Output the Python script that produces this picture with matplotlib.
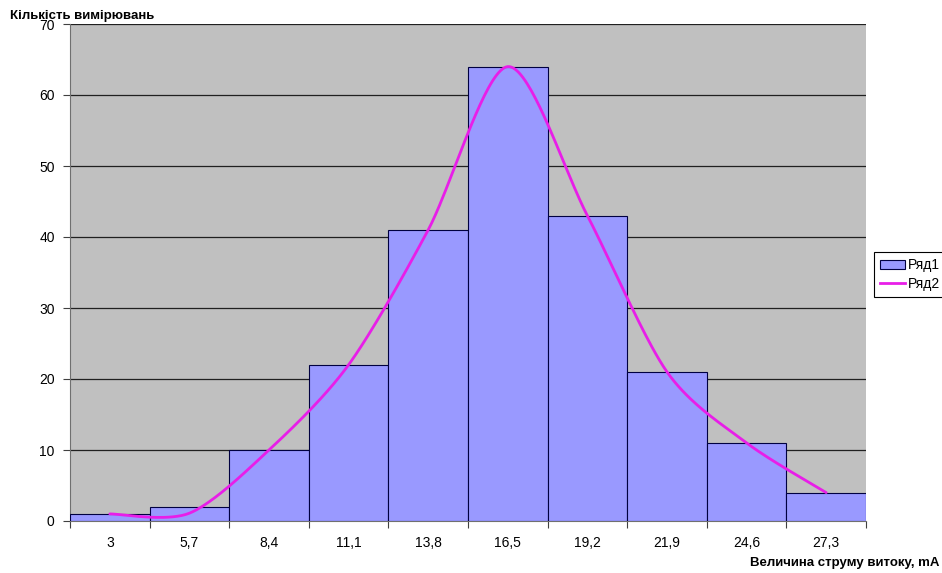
import numpy as np
import matplotlib
matplotlib.use("Agg")
import matplotlib.pyplot as plt
from matplotlib.patches import Patch
from matplotlib.lines import Line2D

# histogram of leakage current measurements
bins = ["3", "5,7", "8,4", "11,1", "13,8", "16,5", "19,2", "21,9", "24,6", "27,3"]
counts = [1, 2, 10, 22, 41, 64, 43, 21, 11, 4]          # Ряд1
fitted = [1, 1.1, 10, 22, 41, 64, 43, 21, 11, 4]        # Ряд2


def excel_smooth(x, y, n=40, k=6.0):
    # bezier smoothing like the spreadsheet "smoothed line" option
    x = np.asarray(x, float)
    y = np.asarray(y, float)
    px = np.concatenate([[x[0]], x, [x[-1]]])
    py = np.concatenate([[y[0]], y, [y[-1]]])
    xs, ys = [], []
    t = np.linspace(0, 1, n)
    for i in range(1, len(px) - 2):
        p0 = np.array([px[i], py[i]])
        p3 = np.array([px[i + 1], py[i + 1]])
        c1 = p0 + (np.array([px[i + 1], py[i + 1]]) - np.array([px[i - 1], py[i - 1]])) / k
        c2 = p3 - (np.array([px[i + 2], py[i + 2]]) - np.array([px[i], py[i]])) / k
        b = ((1 - t) ** 3)[:, None] * p0 + (3 * (1 - t) ** 2 * t)[:, None] * c1 \
            + (3 * (1 - t) * t ** 2)[:, None] * c2 + (t ** 3)[:, None] * p3
        xs.extend(b[:, 0])
        ys.extend(b[:, 1])
    return np.array(xs), np.array(ys)


plt.rcParams['font.family'] = ['Liberation Sans', 'DejaVu Sans']

fig = plt.figure(figsize=(9.42, 5.73), dpi=100)
ax = fig.add_axes([70 / 942, 1 - 521 / 573, 796 / 942, 497 / 573])
ax.set_facecolor("#C0C0C0")

pos = np.arange(len(bins))
ax.bar(pos, counts, width=1.0, color="#9999FF", edgecolor="#000040", linewidth=0.8, zorder=3)
sx, sy = excel_smooth(pos, fitted, k=7.0)
ax.plot(sx, sy, color="#E81EE8", linewidth=2.0, zorder=4, solid_capstyle="round")

ax.set_xlim(-0.5, len(bins) - 0.5)
ax.set_ylim(0, 70)
ax.set_yticks(range(0, 71, 10))
ax.yaxis.grid(True, color="#202020", linewidth=0.9)
ax.set_axisbelow(True)

ax.set_xticks(np.arange(-0.5, len(bins), 1.0))
ax.set_xticklabels([])
ax.set_xticks(pos, minor=True)
ax.set_xticklabels(bins, minor=True)
ax.tick_params(axis="x", which="major", direction="out", length=5, color="#404040")
ax.tick_params(axis="x", which="minor", direction="in", length=3, color="#404040",
               labelsize=10, pad=11)
ax.tick_params(axis="y", direction="out", length=5, color="#404040", labelsize=10, pad=6)

for s in ["top", "right"]:
    ax.spines[s].set_visible(False)
for s in ["left", "bottom"]:
    ax.spines[s].set_color("#707070")

fig.text(10 / 942, 1 - 16 / 573, "Кількість вимірювань", fontsize=9.5, fontweight="bold",
         ha="left", va="center")
fig.text(940 / 942, 1 - 563 / 573, "Величина струму витоку, mA", fontsize=9.5,
         fontweight="bold", ha="right", va="center")

handles = [Patch(facecolor="#9999FF", edgecolor="#000040", linewidth=0.8),
           Line2D([], [], color="#E81EE8", linewidth=2.0)]
leg = fig.legend(handles, ["Ряд1", "Ряд2"], loc="upper left",
                 bbox_to_anchor=(874 / 942, 1 - 252 / 573), fontsize=10,
                 frameon=True, fancybox=False, edgecolor="black", framealpha=1,
                 handlelength=1.75, handleheight=0.7, borderpad=0.45, labelspacing=0.35,
                 handletextpad=0.25, borderaxespad=0)
leg.get_frame().set_linewidth(0.8)

fig.savefig("out.png", dpi=100)
